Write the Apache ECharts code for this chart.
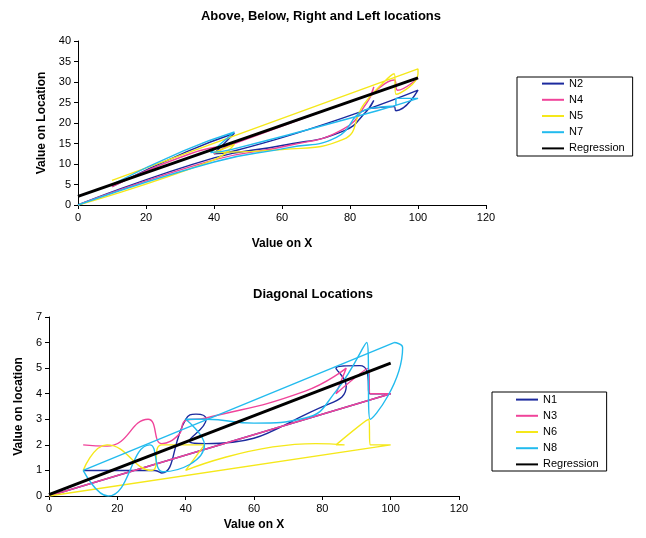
<!DOCTYPE html>
<html><head><meta charset="utf-8">
<script src="https://cdn.jsdelivr.net/npm/echarts/dist/echarts.min.js"></script>
<style>html,body{margin:0;padding:0;background:#fff}#c{width:646px;height:538px}</style>
</head><body><div id="c"></div>
<script>
// ---- data ----
const topTitle = "Above, Below, Right and Left locations";
const botTitle = "Diagonal Locations";
const topNames = ["N2", "N4", "N5", "N7", "Regression"];
const botNames = ["N1", "N3", "N6", "N8", "Regression"];

// top chart series (x, y) in drawing order
const N2 = [[0,0],[40,11.5],[60,14.5],[78,18],[85,23],[87,25.5],[85.5,23.5],[93,24],[93.5,23],[100,28],[45,13],[40,12.5],[46,17.5],[32,13],[10,4.5]];
const N4 = [[0,0],[40,11],[62,14.5],[78,18.5],[85,25],[87,28.8],[86,26.5],[93,30.5],[94,28],[100,31],[46,15],[40,12.5],[44,14.5],[33,12.5],[10,4.5]];
const N5 = [[0,0],[40,11],[46,14.8],[40,12.8],[60,13.5],[78,16],[84,24.5],[90,30],[93,32],[93.5,27],[100,32],[100,33.2],[10,6]];
const N7 = [[0,0],[40,10.5],[62,14],[76,16.5],[84,23],[90,24],[93.5,24.3],[93.5,26],[100,26],[88,23],[45,13.5],[39,12.8],[46,17.8],[31,13.2],[10,5]];
const regTop = [[0,2.1],[100,31]];

// bottom chart series
const N1 = [[0,0],[100,4],[94,4],[93,4.9],[91,5.1],[84,5],[87,4.3],[82,3.6],[46,2.05],[41,2.15],[46,3],[43,3.2],[40,3],[33,0.9],[31,1],[10,1]];
const N3 = [[0,0],[100,4],[94,4],[93.5,5],[84,4],[87,5],[75,4.1],[46,3.05],[40,2.95],[38,2.4],[33,2.05],[29,3],[17,1.95],[10,2]];
const N6 = [[0,0],[100,2],[94,2],[93.6,3],[84,2],[86.5,2],[78,2.05],[40,1],[45.5,2],[33,2],[30,1],[17,2],[10,1]];
const N8 = [[10,1],[17.3,0],[29.5,2],[33.4,0.95],[45.5,2],[40,3],[46,3],[60,2.85],[75,3.05],[84,4.1],[93,6],[94,3],[103.5,5.8],[101,6]];
const N8back = [[101,6],[10,1]];
const regBot = [[0,0.05],[100,5.2]];

const colors = ["#1c2a9e", "#f0449a", "#f5e81a", "#22bbee", "#000000"];

// ---- chart ----
const font = "Liberation Sans, Arial, sans-serif";
function xAxis(gridIndex, gap) {
  return {
    type: "value", gridIndex, min: 0, max: 120, interval: 20,
    name: "Value on X", nameLocation: "middle", nameGap: gap,
    nameTextStyle: { color: "#000", fontWeight: "bold", fontSize: 12, fontFamily: font },
    axisLine: { lineStyle: { color: "#000", width: 1 } },
    axisTick: { show: true, inside: false, length: 4, lineStyle: { color: "#000" } },
    axisLabel: { color: "#000", fontSize: 11, fontFamily: font, margin: 7 },
    splitLine: { show: false }
  };
}
function yAxis(gridIndex, max, interval, name, gap) {
  return {
    type: "value", gridIndex, min: 0, max, interval,
    name, nameLocation: "middle", nameGap: gap, nameRotate: 90,
    nameTextStyle: { color: "#000", fontWeight: "bold", fontSize: 12, fontFamily: font },
    axisLine: { show: true, lineStyle: { color: "#000", width: 1 } },
    axisTick: { show: true, inside: false, length: 4, lineStyle: { color: "#000" } },
    axisLabel: { color: "#000", fontSize: 11, fontFamily: font, margin: 7 },
    splitLine: { show: false }
  };
}
function mk(name, data, idx, color, isReg, straight) {
  return {
    name, type: "line", data, xAxisIndex: idx, yAxisIndex: idx,
    smooth: (isReg || straight) ? false : 0.5, symbol: "none", showSymbol: false,
    lineStyle: { color, width: isReg ? 3 : 1.4 }, itemStyle: { color },
    animation: false, clip: true
  };
}
const chart = echarts.init(document.getElementById("c"), null, { renderer: "canvas" });
const topSeries = [N2, N4, N5, N7, regTop];
const botSeries = [N1, N3, N6, N8, regBot];
const series = [];
topSeries.forEach((d, i) => series.push(mk(topNames[i], d, 0, colors[i], i === 4)));
botSeries.forEach((d, i) => {
  series.push(mk(botNames[i], d, 1, colors[i], i === 4));
  if (i === 3) series.push(mk(botNames[i], N8back, 1, colors[i], false, true));
});

const legendBase = {
  orient: "vertical", borderColor: "#000", borderWidth: 1,
  itemWidth: 22, itemHeight: 14, itemGap: 5, selectedMode: false,
  itemStyle: { opacity: 0 },
  textStyle: { color: "#000", fontSize: 11, fontFamily: font }
};
chart.setOption({
  animation: false,
  backgroundColor: "#fff",
  title: [
    { text: topTitle, left: 316, top: 5, textAlign: "center",
      textStyle: { fontSize: 13, fontWeight: "bold", color: "#000", fontFamily: font } },
    { text: botTitle, left: 308, top: 283, textAlign: "center",
      textStyle: { fontSize: 13, fontWeight: "bold", color: "#000", fontFamily: font } }
  ],
  grid: [
    { left: 78, top: 41, width: 408, height: 164 },
    { left: 49, top: 317, width: 410, height: 179 }
  ],
  xAxis: [xAxis(0, 33), xAxis(1, 23)],
  yAxis: [yAxis(0, 40, 5, "Value on Location", 27), yAxis(1, 7, 1, "Value on location", 23)],
  legend: [
    Object.assign({}, legendBase, { data: topNames, left: 517, top: 77, padding: [1, 8, 2, 24] }),
    Object.assign({}, legendBase, { data: botNames, left: 492, top: 392, padding: [2, 8, 1, 23] })
  ],
  series
});
</script></body></html>
